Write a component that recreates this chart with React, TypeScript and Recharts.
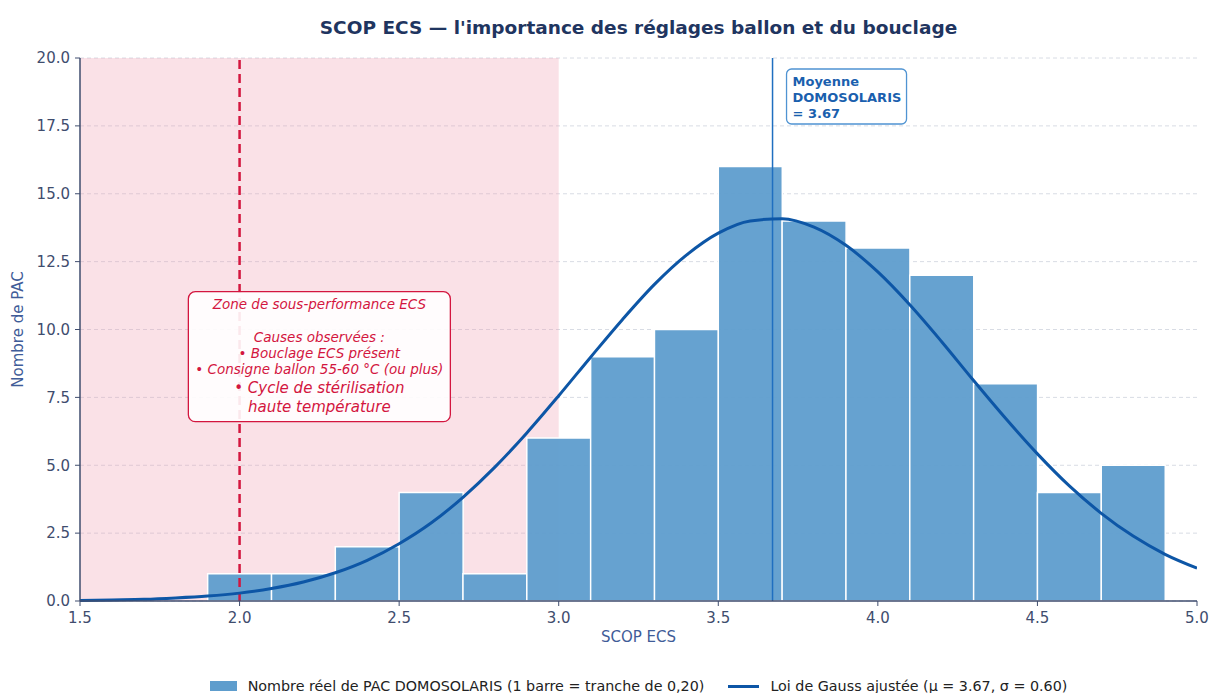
import React from 'react';
import {
  ComposedChart,
  Bar,
  Line,
  XAxis,
  YAxis,
  CartesianGrid,
  ReferenceArea,
  ReferenceLine,
  ReferenceDot,
  Legend,
} from 'recharts';

// Histogram bins (centres, width 0.20) and counts
const binCenters = [2.0, 2.2, 2.4, 2.6, 2.8, 3.0, 3.2, 3.4, 3.6, 3.8, 4.0, 4.2, 4.4, 4.6, 4.8];
const binCounts = [1, 1, 2, 4, 1, 6, 9, 10, 16, 14, 13, 12, 8, 4, 5];

// Fitted Gauss curve
const gaussX = [1.5, 1.6, 1.7, 1.8, 1.9, 2.0, 2.1, 2.2, 2.3, 2.4, 2.5, 2.6, 2.7, 2.8, 2.9, 3.0, 3.1, 3.2, 3.3, 3.4, 3.5, 3.6, 3.7, 3.8, 3.9, 4.0, 4.1, 4.2, 4.3, 4.4, 4.5, 4.6, 4.7, 4.8, 4.9, 5.0];
const gaussY = [0.02, 0.04, 0.06, 0.11, 0.18, 0.29, 0.46, 0.7, 1.04, 1.5, 2.11, 2.87, 3.82, 4.93, 6.19, 7.56, 8.98, 10.37, 11.66, 12.74, 13.55, 14.0, 14.08, 13.77, 13.1, 12.12, 10.91, 9.55, 8.12, 6.73, 5.42, 4.24, 3.23, 2.39, 1.72, 1.21];

const xTicks = [1.5, 2.0, 2.5, 3.0, 3.5, 4.0, 4.5, 5.0];
const yTicks = [0, 2.5, 5, 7.5, 10, 12.5, 15, 17.5, 20];

const meanValue = 3.67;
const thresholdValue = 2.0;
const zoneStart = 1.5;
const zoneEnd = 3.0;
const annotationX = 2.25;
const annotationY = 9;

const barName = 'Nombre réel de PAC DOMOSOLARIS (1 barre = tranche de 0,20)';
const lineName = 'Loi de Gauss ajustée (μ = 3.67, σ = 0.60)';
const titleText = "SCOP ECS — l'importance des réglages ballon et du bouclage";
const meanLines = ['Moyenne', 'DOMOSOLARIS', '= 3.67'];
const zoneLines = [
  'Zone de sous-performance ECS',
  '',
  'Causes observées :',
  '• Bouclage ECS présent',
  '• Consigne ballon 55-60 °C (ou plus)',
  '• Cycle de stérilisation',
  'haute température',
];

const barData = binCenters.map((c, i) => ({ center: c, count: binCounts[i] }));
const curveData = gaussX.map((x, i) => ({ x, y: gaussY[i] }));

const FONT = "'DejaVu Sans', sans-serif";
const BAR_COLOR = '#5e9dcd';
const LINE_COLOR = '#0d56a6';
const AXIS_COLOR = '#3f4d6e';
const RED = '#d3163f';

const MeanLabel = (props: any) => {
  const vb = props.viewBox || {};
  const x0 = vb.x + 14;
  const y0 = vb.y + 11;
  return (
    <g>
      <rect x={x0} y={y0} width={120} height={55} rx={5} fill="#ffffff" fillOpacity={0.9} stroke="#4f93d2" strokeWidth={1.3} />
      {meanLines.map((t, i) => (
        <text key={i} x={x0 + 6} y={y0 + 17 + i * 16} fill="#1a5fae" fontSize={13} fontWeight="bold" fontFamily={FONT}>
          {t}
        </text>
      ))}
    </g>
  );
};

const ZoneBox = (props: any) => {
  const { cx, cy } = props;
  const w = 262;
  const h = 130;
  const sizes = [13.5, 13.5, 13.5, 13.5, 13.5, 15, 15];
  const offs = [-48, -32, -15, 1, 17, 36, 55];
  return (
    <g>
      <rect x={cx - w / 2} y={cy - h / 2} width={w} height={h} rx={7} fill="#ffffff" fillOpacity={0.9} stroke={RED} strokeWidth={1.3} />
      {zoneLines.map((t, i) => (
        <text key={i} x={cx} y={cy + offs[i]} textAnchor="middle" fill={RED} fontSize={sizes[i]} fontStyle="italic" fontFamily={FONT}>
          {t}
        </text>
      ))}
    </g>
  );
};

const renderLegend = () => (
  <div
    style={{
      display: 'flex',
      justifyContent: 'center',
      alignItems: 'center',
      height: 20,
      fontFamily: FONT,
      fontSize: 14.3,
      color: '#222222',
      whiteSpace: 'nowrap',
    }}
  >
    <span style={{ display: 'inline-block', width: 27, height: 10, background: BAR_COLOR, marginRight: 11 }} />
    <span>{barName}</span>
    <span style={{ display: 'inline-block', width: 31, height: 3, background: LINE_COLOR, marginLeft: 24, marginRight: 11 }} />
    <span>{lineName}</span>
  </div>
);

export default function App() {
  return (
    <div style={{ position: 'absolute', left: 0, top: 0, width: 1210, height: 693, background: '#ffffff' }}>
      <div
        style={{
          position: 'absolute',
          left: 80,
          width: 1117,
          top: 16,
          textAlign: 'center',
          fontFamily: FONT,
          fontWeight: 'bold',
          fontSize: 18.5,
          color: '#1f3560',
          lineHeight: '24px',
        }}
      >
        {titleText}
      </div>
      <ComposedChart
        width={1210}
        height={693}
        data={barData}
        margin={{ top: 58, right: 13, left: 0, bottom: 27 }}
        barCategoryGap={0}
        barGap={0}
        style={{ fontFamily: FONT }}
      >
        <CartesianGrid xAxisId="main" vertical={false} stroke="#d8dce4" strokeDasharray="4 3" />
        <XAxis
          xAxisId="main"
          dataKey="x"
          type="number"
          domain={[1.5, 5]}
          ticks={xTicks}
          allowDataOverflow
          height={45}
          tickFormatter={(v: number) => v.toFixed(1)}
          tick={{ fill: AXIS_COLOR, fontSize: 15 }}
          tickLine={{ stroke: AXIS_COLOR }}
          axisLine={{ stroke: AXIS_COLOR, strokeWidth: 1.5 }}
          tickSize={5}
          tickMargin={6}
          label={{ value: 'SCOP ECS', position: 'insideBottom', offset: 4, fill: '#3f5c98', fontSize: 15 }}
        />
        <XAxis xAxisId="bars" dataKey="center" type="number" domain={[1.5, 5]} hide height={0} allowDataOverflow />
        <YAxis
          type="number"
          domain={[0, 20]}
          ticks={yTicks}
          width={80}
          tickFormatter={(v: number) => v.toFixed(1)}
          tick={{ fill: AXIS_COLOR, fontSize: 15 }}
          tickLine={{ stroke: AXIS_COLOR }}
          axisLine={{ stroke: AXIS_COLOR, strokeWidth: 1.5 }}
          tickSize={5}
          tickMargin={5}
          label={{ value: 'Nombre de PAC', angle: -90, position: 'insideLeft', offset: 18, fill: '#3f5c98', fontSize: 15, style: { textAnchor: 'middle' } }}
        />
        <ReferenceArea xAxisId="main" x1={zoneStart} x2={zoneEnd} y1={0} y2={20} fill="#ee9db0" fillOpacity={0.3} stroke="none" />
        <Bar
          xAxisId="bars"
          dataKey="count"
          name={barName}
          fill={BAR_COLOR}
          fillOpacity={0.95}
          stroke="#ffffff"
          strokeWidth={1.5}
          isAnimationActive={false}
        />
        <ReferenceLine xAxisId="main" x={thresholdValue} stroke={RED} strokeWidth={2.5} strokeDasharray="9 5" />
        <ReferenceLine xAxisId="main" x={meanValue} stroke="#1f6fc0" strokeWidth={1.5} label={<MeanLabel />} />
        <Line
          xAxisId="main"
          data={curveData}
          dataKey="y"
          name={lineName}
          type="monotone"
          stroke={LINE_COLOR}
          strokeWidth={3}
          dot={false}
          activeDot={false}
          isAnimationActive={false}
        />
        <ReferenceDot xAxisId="main" x={annotationX} y={annotationY} r={0} shape={(p: any) => <ZoneBox {...p} />} />
        <Legend verticalAlign="bottom" content={renderLegend} wrapperStyle={{ bottom: -3, left: 80, width: 1117, height: 20 }} />
      </ComposedChart>
    </div>
  );
}
